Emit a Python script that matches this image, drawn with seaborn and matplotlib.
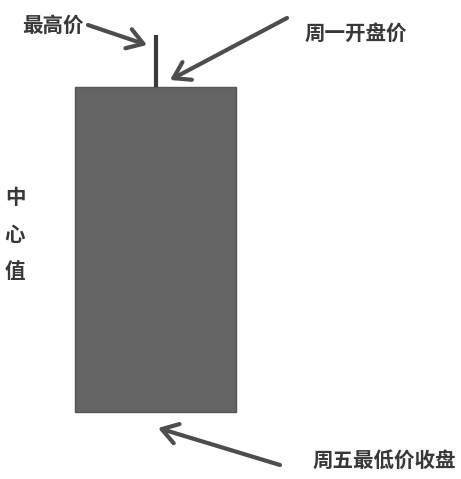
import matplotlib
matplotlib.use("Agg")
import matplotlib.pyplot as plt
import seaborn as sns
import pandas as pd

# weekly candle (relative price units): Monday open at top, Friday close = low
days = ["本周"]
open_price = [100]
high_price = [116]
low_price = [0]
close_price = [0]

labels = {
    "high": "最高价",
    "open": "周一开盘价",
    "center": "中心值",
    "close": "周五最低价收盘",
}

sns.set_theme(style="white")
plt.rcParams['font.family'] = ['Noto Sans CJK SC', 'DejaVu Sans']

W, H = 461, 479
fig = plt.figure(figsize=(W / 100, H / 100), dpi=100)
ax = fig.add_axes([0, 0, 1, 1])

df = pd.DataFrame({"day": days, "open": open_price, "high": high_price,
                   "low": low_price, "close": close_price})
df["body"] = df["open"] - df["close"]

# candle body
sns.barplot(data=df, x="day", y="body", color="#646464", saturation=1,
            edgecolor="#555555", linewidth=1, width=0.8, ax=ax)
# upper wick
ax.vlines(x=range(len(df)), ymin=df["open"], ymax=df["high"],
          color="#3a3a3a", linewidth=3)

# map the candle to the picture's pixel layout
px_left, px_right, px_top, px_bottom = 75, 236, 87, 412
xs = 0.8 / (px_right - px_left)
ax.set_xlim(-0.4 - px_left * xs, 0.4 + (W - px_right) * xs)
ys = (df["open"][0] - df["close"][0]) / (px_bottom - px_top)
ax.set_ylim(df["close"][0] - (H - px_bottom) * ys, df["open"][0] + px_top * ys)
ax.set_axis_off()


def fp(x, y):
    return (x, H - y)


txt = dict(fontsize=14.8, fontweight="bold", color="#383838")
ax.text(*fp(22, 25), labels["high"], transform=None, ha="left", va="center", **txt)
ax.text(*fp(305, 33), labels["open"], transform=None, ha="left", va="center", **txt)
ax.text(*fp(313, 460), labels["close"], transform=None, ha="left", va="center", **txt)
for i, ch in enumerate(labels["center"]):
    ax.text(*fp(15, 197 + i * 37.5), ch, transform=None, ha="center", va="center", **txt)

arrow = dict(arrowstyle="->,head_length=0.7,head_width=0.45", color="#4d4d4d",
             lw=3, shrinkA=0, shrinkB=0, mutation_scale=16)
for tail, tip in [((88, 25), (147, 45)), ((287, 18), (170, 80)), ((280, 465), (158, 428))]:
    ax.annotate("", xy=fp(*tip), xycoords="figure pixels",
                xytext=fp(*tail), textcoords="figure pixels",
                arrowprops=arrow, annotation_clip=False)

fig.savefig("out.png", dpi=100, facecolor="white")
